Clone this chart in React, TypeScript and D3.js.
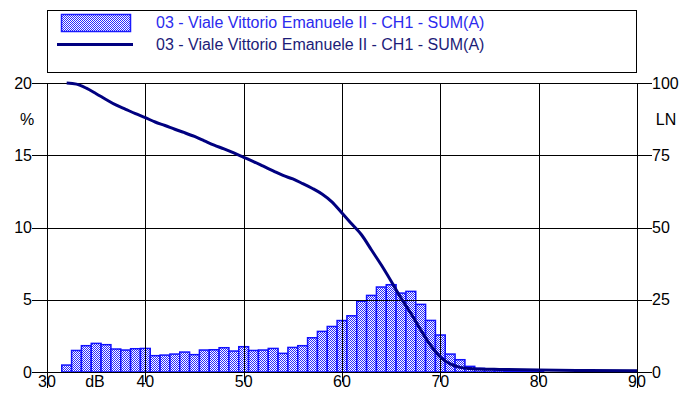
import { useRef, useEffect } from "react";
import * as d3 from "d3";

// histogram bins (dB, centred) and their share of time (%)
const binDb = [
  32, 33, 34, 35, 36, 37, 38, 39, 40, 41, 42, 43, 44, 45, 46, 47, 48, 49, 50,
  51, 52, 53, 54, 55, 56, 57, 58, 59, 60, 61, 62, 63, 64, 65, 66, 67, 68, 69,
  70, 71, 72, 73, 74, 75, 76, 77, 78, 79, 80,
];
const binPct = [
  0.48, 1.49, 1.82, 1.98, 1.89, 1.59, 1.52, 1.61, 1.63, 1.13, 1.17, 1.24, 1.38,
  1.2, 1.52, 1.54, 1.68, 1.45, 1.75, 1.49, 1.52, 1.63, 1.29, 1.7, 1.82, 2.37,
  2.81, 3.15, 3.56, 3.89, 4.9, 5.3, 5.88, 6.04, 5.46, 5.58, 4.68, 3.57, 2.56,
  1.24, 0.85, 0.39, 0.25, 0.2, 0.15, 0.1, 0.1, 0.05, 0.05,
];

// cumulative LN curve
const lnDb = [
  32, 33, 34, 35, 36, 37, 38, 39, 40, 41, 42, 43, 44, 45, 46, 47, 48, 49, 50,
  51, 52, 53, 54, 55, 56, 57, 58, 59, 60, 61, 62, 63, 64, 65, 66, 67, 68, 69,
  70, 71, 72, 73, 74, 76, 80, 85, 90,
];
const lnVal = [
  100, 99.6, 98.2, 96.3, 94.3, 92.4, 90.9, 89.4, 88.0, 86.5, 85.3, 84.0, 82.8,
  81.5, 80.0, 78.5, 77.2, 75.8, 74.3, 72.8, 71.2, 69.6, 68.0, 66.8, 65.2, 63.5,
  61.5, 58.8, 55.0, 51.2, 47.4, 42.2, 37.0, 31.4, 25.6, 20.3, 14.6, 9.3, 5.2,
  2.8, 1.6, 1.2, 1.05, 0.9, 0.7, 0.5, 0.4,
];

const xTicks = [30, 40, 50, 60, 70, 80, 90];
const leftTicks = [0, 5, 10, 15, 20];
const rightTicks = [0, 25, 50, 75, 100];
const seriesName = "03 - Viale Vittorio Emanuele II - CH1 - SUM(A)";

const App = () => {
  const svgRef = useRef(null);

  useEffect(() => {
    d3.select(svgRef.current).selectAll("*").remove();

    const width = 695;
    const height = 405;
    const font = "'Liberation Sans', Arial, sans-serif";
    const fs = 16;

    const svg = d3
      .select(svgRef.current)
      .attr("width", width)
      .attr("height", height)
      .style("font-family", font);

    const pat = svg
      .append("defs")
      .append("pattern")
      .attr("id", "chk")
      .attr("width", 2)
      .attr("height", 2)
      .attr("patternUnits", "userSpaceOnUse");
    pat.append("rect").attr("width", 2).attr("height", 2).attr("fill", "#fff");
    pat.append("rect").attr("width", 1).attr("height", 1).attr("fill", "#2a2aff");
    pat
      .append("rect")
      .attr("x", 1)
      .attr("y", 1)
      .attr("width", 1)
      .attr("height", 1)
      .attr("fill", "#2a2aff");

    const x = d3.scaleLinear().domain([30, 90]).range([47, 637]);
    const yL = d3.scaleLinear().domain([0, 20]).range([372, 83]);
    const yR = d3.scaleLinear().domain([0, 100]).range([372, 83]);

    // legend box
    svg
      .append("rect")
      .attr("x", 47.5)
      .attr("y", 10.5)
      .attr("width", 589)
      .attr("height", 62)
      .attr("fill", "#fff")
      .attr("stroke", "#000")
      .attr("stroke-width", 1);
    svg
      .append("rect")
      .attr("x", 61.5)
      .attr("y", 14.5)
      .attr("width", 69)
      .attr("height", 17)
      .attr("fill", "url(#chk)")
      .attr("stroke", "#1a1aff")
      .attr("stroke-width", 1.5);
    svg
      .append("line")
      .attr("x1", 57)
      .attr("x2", 133)
      .attr("y1", 44.5)
      .attr("y2", 44.5)
      .attr("stroke", "#000080")
      .attr("stroke-width", 3);
    svg
      .append("text")
      .attr("x", 156)
      .attr("y", 28)
      .attr("font-size", fs)
      .attr("fill", "#2b2bee")
      .text(seriesName);
    svg
      .append("text")
      .attr("x", 156)
      .attr("y", 50)
      .attr("font-size", fs)
      .attr("fill", "#1c1c78")
      .text(seriesName);

    // bars
    svg
      .append("g")
      .selectAll("rect")
      .data(binDb)
      .enter()
      .append("rect")
      .attr("x", (d) => x(d - 0.5))
      .attr("width", (d) => x(d + 0.5) - x(d - 0.5))
      .attr("y", (d, i) => yL(binPct[i]))
      .attr("height", (d, i) => yL(0) - yL(binPct[i]))
      .attr("fill", "url(#chk)")
      .attr("stroke", "#1010ff")
      .attr("stroke-width", 1.5);

    // grid and axes
    const g = svg.append("g").attr("stroke", "#000").attr("stroke-width", 1);
    xTicks.forEach((t) => {
      const px = Math.round(x(t)) + 0.5;
      const isEdge = t === 30 || t === 90;
      g.append("line")
        .attr("x1", px)
        .attr("x2", px)
        .attr("y1", 83)
        .attr("y2", isEdge ? 388 : 382);
    });
    leftTicks.forEach((t) => {
      const py = Math.round(yL(t)) + 0.5;
      g.append("line")
        .attr("x1", 32)
        .attr("x2", 652)
        .attr("y1", py)
        .attr("y2", py);
    });

    // labels
    const txt = svg.append("g").attr("font-size", fs).attr("fill", "#000");
    xTicks.forEach((t) => {
      txt
        .append("text")
        .attr("x", x(t))
        .attr("y", 387)
        .attr("text-anchor", "middle")
        .text(t);
    });
    leftTicks.forEach((t) => {
      txt
        .append("text")
        .attr("x", 32)
        .attr("y", yL(t))
        .attr("dy", "0.35em")
        .attr("text-anchor", "end")
        .text(t);
    });
    rightTicks.forEach((t) => {
      txt
        .append("text")
        .attr("x", 652)
        .attr("y", yR(t))
        .attr("dy", "0.35em")
        .text(t);
    });
    txt.append("text").attr("x", 27).attr("y", 125).attr("text-anchor", "middle").text("%");
    txt.append("text").attr("x", 666).attr("y", 125).attr("text-anchor", "middle").text("LN");
    txt.append("text").attr("x", 95).attr("y", 387).attr("text-anchor", "middle").text("dB");

    // LN curve
    const line = d3
      .line()
      .x((d) => x(d[0]))
      .y((d) => yR(d[1]))
      .curve(d3.curveMonotoneX);
    svg
      .append("path")
      .datum(lnDb.map((d, i) => [d, lnVal[i]]))
      .attr("d", line)
      .attr("fill", "none")
      .attr("stroke", "#000080")
      .attr("stroke-width", 3);
  }, []);

  return (
    <div style={{ position: "absolute", left: 0, top: 0, background: "#fff" }}>
      <svg ref={svgRef}></svg>
    </div>
  );
};

export default App;
